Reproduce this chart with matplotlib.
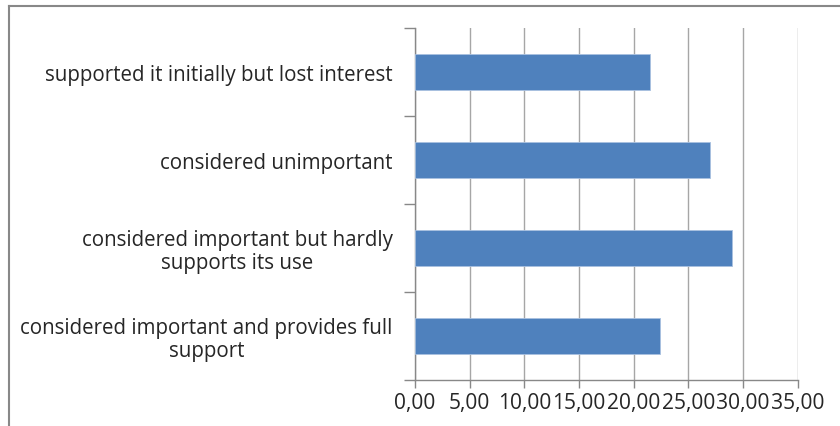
import matplotlib
matplotlib.use("Agg")
import matplotlib.pyplot as plt
from matplotlib.lines import Line2D

categories = [
    "considered important and provides full\nsupport",
    "considered important but hardly\nsupports its use",
    "considered unimportant",
    "supported it initially but lost interest",
]
values = [22.4, 29.0, 27.0, 21.5]
xticks = [0, 5, 10, 15, 20, 25, 30, 35]
xtick_labels = ["0,00", "5,00", "10,00", "15,00", "20,00", "25,00", "30,00", "35,00"]

plt.rcParams['font.family'] = ['Open Sans', 'DejaVu Sans']

fig = plt.figure(figsize=(8.4, 4.27), dpi=100)
ax = fig.add_axes([415/840, 1-381/427, (797.7-415)/840, (381-29)/427])

ypos = list(range(len(categories)))
ax.barh(ypos, values, height=0.40, color='#4f81bd', edgecolor='#a9c1e0', linewidth=0.6, zorder=3)
ax.set_ylim(-0.5, len(categories)-0.5)
ax.set_xlim(0, 35)
ax.set_xticks(xticks)
ax.set_xticklabels(xtick_labels, fontsize=15.1, color='#262626')
ax.set_yticks([y + 0.5 for y in [-1] + ypos])
ax.set_yticklabels([])
ax.set_yticks(ypos, minor=True)
ax.set_yticklabels(categories, minor=True, fontsize=14.8, color='#262626',
                   ha='right', multialignment='center', linespacing=1.1)
ax.tick_params(axis='y', which='minor', length=0, pad=16)
ax.tick_params(axis='y', which='major', length=8, color='#888888', width=1)
ax.tick_params(axis='x', length=6, color='#888888', width=1, pad=3)
ax.grid(axis='x', color='#a6a6a6', linewidth=1, zorder=0)
for s in ['top', 'right']:
    ax.spines[s].set_visible(False)
for s in ['left', 'bottom']:
    ax.spines[s].set_color('#888888')
    ax.spines[s].set_linewidth(1)

# outer chart-area border (top and left visible)
fig.add_artist(Line2D([9/840, 1], [1-7/427, 1-7/427], color='#888888', linewidth=1.5, transform=fig.transFigure))
fig.add_artist(Line2D([9/840, 9/840], [0, 1-7/427], color='#888888', linewidth=1.5, transform=fig.transFigure))

fig.savefig("out.png", dpi=100)
